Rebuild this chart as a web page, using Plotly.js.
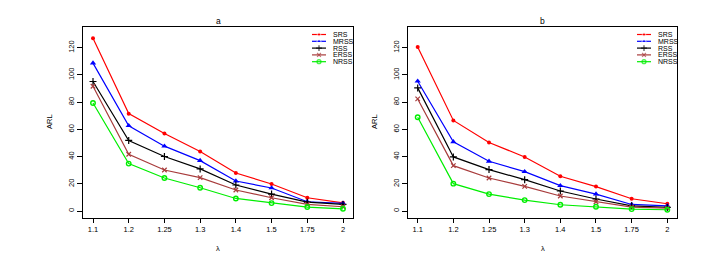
<!DOCTYPE html>
<html>
<head>
<meta charset="utf-8">
<script src="https://cdn.plot.ly/plotly-3.0.1.min.js"></script>
<style>html,body{margin:0;padding:0;background:#fff;}#chart{width:715px;height:275px;}</style>
</head>
<body>
<div id="chart"></div>
<script>
// Data
var lambdaLabels = ["1.1", "1.2", "1.25", "1.3", "1.4", "1.5", "1.75", "2"];
var seriesNames = ["SRS", "MRSS", "RSS", "ERSS", "NRSS"];

var a_SRS  = [126.9, 71.6, 57.0, 43.8, 28.0, 19.9, 9.8, 6.1];
var a_MRSS = [108.7, 62.7, 47.7, 37.1, 22.1, 17.0, 6.9, 5.7];
var a_RSS  = [95.2, 51.9, 40.1, 31.0, 19.2, 12.5, 6.6, 4.9];
var a_ERSS = [91.7, 41.8, 30.2, 24.6, 15.5, 9.8, 4.9, 3.2];
var a_NRSS = [79.4, 34.9, 24.3, 17.2, 9.3, 5.9, 3.0, 1.7];

var b_SRS  = [120.5, 66.6, 50.4, 39.8, 25.6, 18.0, 9.1, 5.4];
var b_MRSS = [95.4, 50.9, 36.6, 29.0, 18.7, 12.5, 4.9, 3.9];
var b_RSS  = [90.5, 39.8, 30.5, 23.1, 14.8, 8.9, 3.9, 2.7];
var b_ERSS = [82.4, 33.4, 24.3, 18.2, 11.1, 6.9, 3.0, 2.2];
var b_NRSS = [68.9, 20.2, 12.5, 8.1, 4.7, 3.2, 1.5, 1.0];

var yTicks = [0, 20, 40, 60, 80, 100, 120];

// Styles
var styles = {
  SRS:  {color: "#ff0000", marker: {symbol: "circle", size: 4}},
  MRSS: {color: "#0000ff", marker: {symbol: "triangle-up", size: 5.5}},
  RSS:  {color: "#000000", marker: {symbol: "cross-thin-open", size: 5, line: {width: 1.2}}},
  ERSS: {color: "#a83c3c", marker: {symbol: "x-thin-open", size: 4.5, line: {width: 1.2}}},
  NRSS: {color: "#00ee00", marker: {symbol: "circle-open", size: 4.5, line: {width: 1.4}}}
};

var xIdx = lambdaLabels.map(function (_, i) { return i; });
var panelA = {SRS: a_SRS, MRSS: a_MRSS, RSS: a_RSS, ERSS: a_ERSS, NRSS: a_NRSS};
var panelB = {SRS: b_SRS, MRSS: b_MRSS, RSS: b_RSS, ERSS: b_ERSS, NRSS: b_NRSS};

function markerFor(name) {
  var s = styles[name];
  var m = JSON.parse(JSON.stringify(s.marker));
  m.color = s.color;
  if (m.line) m.line.color = s.color;
  return m;
}

var traces = [];
function addPanel(data, xa, ya) {
  seriesNames.forEach(function (name) {
    traces.push({
      type: "scatter", mode: "lines+markers",
      x: xIdx, y: data[name], xaxis: xa, yaxis: ya,
      line: {color: styles[name].color, width: 1.2},
      marker: markerFor(name),
      showlegend: false, hoverinfo: "skip", cliponaxis: false
    });
  });
}
addPanel(panelA, "x", "y");
addPanel(panelB, "x2", "y2");

// Manual legends (pixel overlay axis)
var legendPos = [{x0: 312, x1: 326, tx: 331}, {x0: 637, x1: 651, tx: 656}];
var rowY0 = 34.5, rowDy = 6.8;
var annotations = [];
legendPos.forEach(function (lp) {
  seriesNames.forEach(function (name, i) {
    var yy = rowY0 + i * rowDy;
    var m = markerFor(name);
    m.size = [0, m.size * 0.85, 0];
    traces.push({
      type: "scatter", mode: "lines+markers",
      x: [lp.x0, (lp.x0 + lp.x1) / 2, lp.x1], y: [yy, yy, yy],
      xaxis: "x3", yaxis: "y3",
      line: {color: styles[name].color, width: 1.2},
      marker: m, showlegend: false, hoverinfo: "skip", cliponaxis: false
    });
    annotations.push({
      xref: "x3", yref: "y3", x: lp.tx, y: yy, text: name, showarrow: false,
      xanchor: "left", yanchor: "middle",
      font: {family: "Liberation Sans, Arial, sans-serif", size: 7, color: "#000"}
    });
  });
});

var font = {family: "Liberation Sans, Arial, sans-serif", size: 7.5, color: "#000"};
function xAxis(domain, anchor) {
  return {
    domain: domain, anchor: anchor, range: [-0.28, 7.28],
    tickmode: "array", tickvals: xIdx, ticktext: lambdaLabels,
    ticks: "outside", ticklen: 4, tickwidth: 1, tickcolor: "#000",
    showline: true, mirror: true, linecolor: "#000", linewidth: 1,
    showgrid: false, zeroline: false, tickfont: font
  };
}
function yAxis(anchor) {
  return {
    domain: [0.2065, 0.9018], anchor: anchor, range: [-5.2, 135.2],
    tickmode: "array", tickvals: yTicks, ticktext: yTicks.map(String),
    tickangle: -90,
    ticks: "outside", ticklen: 5, tickwidth: 1, tickcolor: "#000",
    showline: true, mirror: true, linecolor: "#000", linewidth: 1,
    showgrid: false, zeroline: false, tickfont: font
  };
}

var domA = [83 / 715, 353 / 715];
var domB = [407.7 / 715, 677.3 / 715];

annotations.push(
  {xref: "paper", yref: "paper", x: (domA[0] + domA[1]) / 2, y: 1 - 21 / 275, text: "a", showarrow: false,
   xanchor: "center", yanchor: "middle", font: {family: "Liberation Sans, Arial, sans-serif", size: 8.5, color: "#000"}},
  {xref: "paper", yref: "paper", x: (domB[0] + domB[1]) / 2, y: 1 - 21 / 275, text: "b", showarrow: false,
   xanchor: "center", yanchor: "middle", font: {family: "Liberation Sans, Arial, sans-serif", size: 8.5, color: "#000"}},
  {xref: "paper", yref: "paper", x: (domA[0] + domA[1]) / 2, y: 1 - 248 / 275, text: "λ", showarrow: false,
   xanchor: "center", yanchor: "middle", font: font},
  {xref: "paper", yref: "paper", x: (domB[0] + domB[1]) / 2, y: 1 - 248 / 275, text: "λ", showarrow: false,
   xanchor: "center", yanchor: "middle", font: font},
  {xref: "paper", yref: "paper", x: 50 / 715, y: 1 - 122 / 275, text: "ARL", showarrow: false, textangle: -90,
   xanchor: "center", yanchor: "middle", font: font},
  {xref: "paper", yref: "paper", x: 375 / 715, y: 1 - 122 / 275, text: "ARL", showarrow: false, textangle: -90,
   xanchor: "center", yanchor: "middle", font: font}
);

var layout = {
  width: 715, height: 275,
  margin: {l: 0, r: 0, t: 0, b: 0, pad: 0},
  paper_bgcolor: "#fff", plot_bgcolor: "rgba(0,0,0,0)",
  showlegend: false,
  xaxis: xAxis(domA, "y"),
  yaxis: yAxis("x"),
  xaxis2: xAxis(domB, "y2"),
  yaxis2: yAxis("x2"),
  xaxis3: {domain: [0, 1], range: [0, 715], visible: false, fixedrange: true, anchor: "y3"},
  yaxis3: {domain: [0, 1], range: [275, 0], visible: false, fixedrange: true, anchor: "x3"},
  annotations: annotations
};

Plotly.newPlot("chart", traces, layout, {staticPlot: true, displayModeBar: false});
</script>
</body>
</html>
